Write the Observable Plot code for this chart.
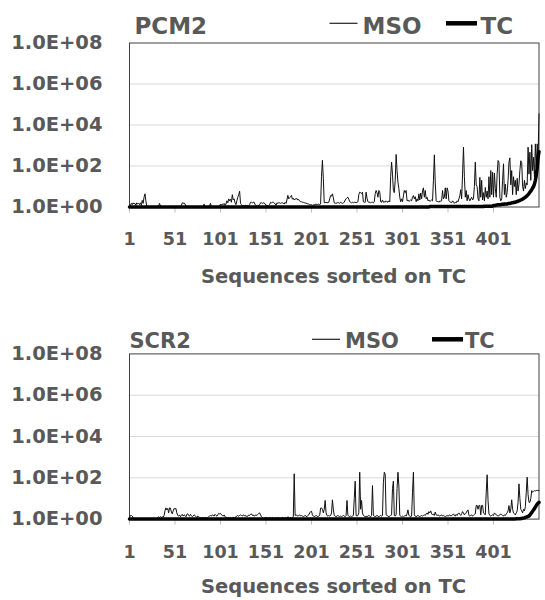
<!DOCTYPE html>
<html>
<head>
<meta charset="utf-8">
<script src="https://cdn.jsdelivr.net/npm/d3@7"></script>
<script src="https://cdn.jsdelivr.net/npm/@observablehq/plot@0.6"></script>
<style>
  html, body { margin: 0; padding: 0; background: #fff; }
  #wrap { position: relative; width: 545px; height: 600px; overflow: hidden; }
  #wrap > div { position: absolute; left: 0; }
</style>
</head>
<body>
<div id="wrap"><div id="p1" style="top:0"></div><div id="p2" style="top:300px"></div></div>
<script>
// ---- Data ----
const panelTitles = ["PCM2", "SCR2"];
const seriesNames = ["MSO", "TC"];
const xTitle = "Sequences sorted on TC";
const xTicks = [1, 51, 101, 151, 201, 251, 301, 351, 401];
const yTicks = [1, 1e2, 1e4, 1e6, 1e8];

const msoPCM2 = [
1,1.2,1.5,1.3,1.6,1.4,1.5,1.2,1.6,1.4,
1.5,1.3,1.6,1.2,2.1,1.5,3,4.4,2,1.1,
1,1,1,1,1,1,1,1,1,1,
1,1,1.1,1.5,1.1,1,1,1,1,1,
1,1,1,1,1,1,1,1,1,1,
1,1,1,1,1,1,1,1.2,1.6,1.5,
1.6,1.4,1.1,1,1,1,1,1,1,1,
1,1,1,1,1,1,1,1,1,1,
1,1,1.4,1,1,1,1,1,1.2,1.5,
1,1,1,1,1,1,1,1,1,1.1,
1.4,1.2,1.4,1.3,1.5,1.2,1.4,2,1.6,2.5,
2,2.4,1.7,4,2.2,2.5,1.6,1.3,2,3,
4,5.9,1.5,1.3,1.2,1.2,1.1,1.2,1.2,1.1,
1.2,1.1,1.3,1.7,1.7,1.6,1.7,1.7,1.3,1.2,
1.1,1.2,1.2,1.3,1.6,1.6,1.5,1.6,1.6,1.4,
1.2,1.2,1.1,1.2,1.3,1.7,1.6,1.7,1.7,1.6,
1.4,1.2,1.6,1.5,1.6,1.6,1.5,1.6,1.6,1.5,
1.4,1.7,1.5,2.2,3.7,2.5,2.8,3.2,3.7,2.4,
2.7,2.2,2.5,2.4,2.6,2.2,2.3,2,1.8,1.8,
1.7,1.7,1.6,1.6,1.5,1.5,1.4,1.4,1.3,1.3,
1.3,1.2,1.3,1.2,1.4,1.3,1.4,1.3,1.4,1.3,
1.4,30,190,25,1.6,1.7,1.6,1.7,1.6,1.7,
2.5,3.6,3.4,4.4,2.8,1.6,1.5,1.6,1.5,1.7,
1.6,1.5,1.7,1.6,1.5,1.6,1.7,2.2,2.5,2.8,
3,2.4,1.8,1.7,1.6,1.7,1.6,1.7,1.7,1.6,
1.7,1.8,4,5.3,5,4.5,5.3,1.8,1.7,1.7,
5.3,2.7,1.8,1.7,1.7,1.6,1.7,1.7,1.6,1.8,
4.5,6.4,5,3,6.4,5.5,1.8,1.7,2.2,1.7,
1.8,1.7,2,1.8,1.7,2,1.8,30,155,40,
6.4,5,20,364,60,16,8,3,1.8,2.5,
1.8,3.5,6.4,5,6.4,2,2.2,1.9,2,2.2,
2,3,3.6,2.5,3.2,1.8,2.5,2,4.4,2.2,
4.8,2.5,6,8.6,3,6.4,2.5,3,2,2.2,
1.9,2,2.2,2,20,350,15,2,1.8,1.9,
1.7,2,1.9,2,6.4,2.5,3,8.6,2.5,8.6,
6,2,1.8,1.7,1.6,2,1.8,1.5,1.7,1.6,
2,1.8,2.5,3.6,7,2.5,40,830,30,3,
6.4,2,4,2.5,2,2.5,3,2.2,2.5,10,
154,12,10,2.5,2,28,3,20,2.2,5,
2,9,3,6,2.5,30,3,60,4,50,
3,45,8,3,40,186,154,3,2,2.5,
20,128,4,13,3,5,20,154,250,12,
60,4,30,10,20,4,25,6,13,60,
180,150,10,6,20,8,15,12,830,40,
470,20,1100,60,270,30,1200,80,1200,300,
35000];

const tcPCM2 = [
1,1,1,1,1,1,1,1,1,1, 1,1,1,1,1,1,1,1,1,1, 1,1,1,1,1,1,1,1,1,1,
1,1,1,1,1,1,1,1,1,1, 1,1,1,1,1,1,1,1,1,1, 1,1,1,1,1,1,1,1,1,1,
1,1,1,1,1,1,1,1,1,1, 1,1,1,1,1,1,1,1,1,1, 1,1,1,1,1,1,1,1,1,1,
1,1,1,1,1,1,1,1,1,1, 1,1,1,1,1,1,1,1,1,1, 1,1,1,1,1,1,1,1,1,1,
1,1,1,1,1,1,1,1,1,1, 1,1,1,1,1,1,1,1,1,1, 1,1,1,1,1,1,1,1,1,1,
1,1,1,1,1,1,1,1,1,1, 1,1,1,1,1,1,1,1,1,1, 1,1,1,1,1,1,1,1,1,1,
1,1,1,1,1,1,1,1,1,1, 1,1,1,1,1,1,1,1,1,1, 1,1,1,1,1,1,1,1,1,1,
1,1,1,1,1,1,1,1,1,1, 1,1,1,1,1,1,1,1,1,1, 1,1,1,1,1,1,1,1,1,1,
1,1,1,1,1,1,1,1,1,1, 1,1,1,1,1,1,1,1,1,1, 1,1,1,1,1,1,1,1,1,1,
1,1,1,1,1,1,1,1,1,1, 1,1,1,1,1,1,1,1,1,1, 1,1,1,1,1,1,1,1,1,1,
1,1,1,1,1,1,1,1,1,1, 1,1,1,1,1,1,1,1,1,1, 1,1,1,1,1,1,1,1,1,1,
1.05,1.05,1.05,1.05,1.05,1.05,1.05,1.05,1.05,1.05,
1.05,1.05,1.05,1.05,1.05,1.05,1.05,1.05,1.05,1.05,
1.05,1.05,1.05,1.05,1.05,1.05,1.05,1.05,1.05,1.05,
1.05,1.05,1.05,1.05,1.05,1.05,1.05,1.05,1.05,1.05,
1.05,1.05,1.05,1.05,1.05,1.05,1.05,1.05,1.05,1.05,
1.05,1.05,1.05,1.05,1.05,1.05,1.05,1.05,1.05,1.05,
1.1,1.1,1.1,1.1,1.1,1.1,1.1,1.1,1.1,1.1,
1.2,1.2,1.2,1.25,1.25,1.3,1.3,1.3,1.3,1.35,
1.35,1.35,1.4,1.4,1.4,1.4,1.45,1.5,1.5,1.55,
1.6,1.6,1.65,1.7,1.7,1.8,1.85,1.9,2,2.1,
2.2,2.3,2.4,2.6,2.8,3,3.3,3.6,4,4.5,
5.3,6,7,8.5,10,13,20,35,80,270,
500];

const msoSCR2 = [
1.2,1.5,1.5,1.4,1.2,1,1,1,1,1,
1,1,1,1,1,1,1,1,1,1,
1,1,1,1,1,1,1,1,1,1,
1.1,1.2,1.3,1.2,1.3,1.2,1.3,1.2,1.5,2.5,
3.5,2.8,3.3,2,3.5,3.4,2.2,1.8,2.5,3.3,
3,3.3,2,1.5,1.4,1.6,1.3,1.5,1.7,1.4,
1.6,1.5,1.3,1.7,1.8,1.5,1.4,1.7,1.5,1.3,
1.4,1.6,1.5,1.3,1.2,1.4,1.3,1.2,1.2,1.1,
1.2,1.1,1.2,1.1,1.2,1.1,1.2,1.3,1.4,1.5,
1.4,1.6,1.5,1.4,1.7,1.5,1.4,1.6,1.9,1.8,
1.9,1.6,1.5,1.4,1.6,1.3,1.2,1.2,1.1,1.2,
1.1,1.2,1.1,1.2,1.2,1.1,1.2,1.3,1.4,1.5,
1.4,1.5,1.6,1.5,1.4,1.6,1.5,1.4,1.5,1.3,
1.4,1.6,1.5,1.7,1.8,1.5,1.6,1.4,1.5,1.6,
1.5,1.7,1.9,2,1.6,1.3,1.2,1.1,1.1,1.2,
1.1,1.2,1.1,1.1,1.2,1.1,1.1,1.2,1.1,1.1,
1.1,1.2,1.1,1.1,1.2,1.1,1.1,1.1,1.2,1.1,
1.1,1.2,1.1,1.1,1.3,1.2,1.1,1.2,1.1,1.2,
1.3,156,1.5,1.6,1.5,1.4,1.5,1.6,1.4,1.5,
1.4,1.3,1.4,1.5,1.4,1.3,1.5,1.6,2,2.3,
2.4,1.6,1.4,1.3,1.4,1.5,1.4,1.3,1.4,1.5,
3.4,3.5,3,2,3,8,2,1.5,1.4,1.5,
1.4,1.5,2,8.6,3,1.5,1.4,1.3,1.4,1.5,
1.4,1.3,1.4,1.3,1.4,1.5,1.4,1.3,1.5,8,
1.5,1.4,1.3,1.4,1.3,1.4,1.5,10,69,1.5,
1.4,1.5,2,186,3,8,2,1.5,1.4,1.3,
1.4,1.3,1.4,1.5,1.4,1.3,1.5,42,1.5,1.4,
1.3,1.4,1.5,1.4,1.3,1.4,1.5,1.4,1.5,60,
186,150,1.6,1.5,1.4,1.3,1.4,1.5,1.6,30,
69,1.5,1.4,1.6,30,186,40,1.5,1.4,1.3,
1.4,1.3,1.4,1.5,1.4,1.8,2.8,1.5,1.4,1.3,
1.4,20,186,1.6,1.4,1.3,1.4,1.5,1.4,1.3,
1.4,1.5,1.4,1.5,1.6,1.5,1.8,2,1.7,2.3,
2,2.5,1.8,1.6,1.8,1.5,2.2,1.6,1.5,1.6,
1.5,1.4,1.5,1.6,1.4,1.5,1.4,1.3,1.4,1.5,
1.4,1.5,1.6,1.4,1.5,1.6,1.8,1.5,1.4,1.7,
1.5,1.8,2,1.7,1.5,1.8,2.3,2,1.6,1.8,
2,2.5,2.8,1.5,1.4,1.5,1.6,1.4,1.5,1.7,
1.8,4.6,4.6,3,4.6,4.6,1.6,4.6,4.6,2,
1.8,1.6,20,140,8,1.8,1.5,1.4,1.5,1.6,
1.5,2,1.8,1.6,1.5,1.4,1.5,1.6,1.8,1.6,
1.5,1.4,1.6,1.5,1.8,2,2.5,4.5,2,3,
8.6,3,2,1.8,1.6,2,2.5,6.5,51,10,
3,2.5,2,3,2.5,4,20,107,15,6.5,
6.5,10,24,20,22,24,23,24,25,24,
24];

const tcSCR2 = [
1,1,1,1,1,1,1,1,1,1, 1,1,1,1,1,1,1,1,1,1, 1,1,1,1,1,1,1,1,1,1,
1,1,1,1,1,1,1,1,1,1, 1,1,1,1,1,1,1,1,1,1, 1,1,1,1,1,1,1,1,1,1,
1,1,1,1,1,1,1,1,1,1, 1,1,1,1,1,1,1,1,1,1, 1,1,1,1,1,1,1,1,1,1,
1,1,1,1,1,1,1,1,1,1, 1,1,1,1,1,1,1,1,1,1, 1,1,1,1,1,1,1,1,1,1,
1,1,1,1,1,1,1,1,1,1, 1,1,1,1,1,1,1,1,1,1, 1,1,1,1,1,1,1,1,1,1,
1,1,1,1,1,1,1,1,1,1, 1,1,1,1,1,1,1,1,1,1, 1,1,1,1,1,1,1,1,1,1,
1,1,1,1,1,1,1,1,1,1, 1,1,1,1,1,1,1,1,1,1, 1,1,1,1,1,1,1,1,1,1,
1,1,1,1,1,1,1,1,1,1, 1,1,1,1,1,1,1,1,1,1, 1,1,1,1,1,1,1,1,1,1,
1,1,1,1,1,1,1,1,1,1, 1,1,1,1,1,1,1,1,1,1, 1,1,1,1,1,1,1,1,1,1,
1,1,1,1,1,1,1,1,1,1, 1,1,1,1,1,1,1,1,1,1, 1,1,1,1,1,1,1,1,1,1,
1,1,1,1,1,1,1,1,1,1, 1,1,1,1,1,1,1,1,1,1, 1,1,1,1,1,1,1,1,1,1,
1,1,1,1,1,1,1,1,1,1, 1,1,1,1,1,1,1,1,1,1, 1,1,1,1,1,1,1,1,1,1,
1,1,1,1,1,1,1,1,1,1, 1,1,1,1,1,1,1,1,1,1, 1,1,1,1,1,1,1,1,1,1,
1,1,1,1,1,1,1,1,1,1, 1,1,1,1,1,1,1,1,1,1, 1,1,1,1,1,1,1,1,1,1,
1,1,1,1,1.02,1.03,1.04,1.05,1.05,1.05,
1.07,1.08,1.1,1.12,1.15,1.2,1.25,1.3,1.35,1.4,
1.6,1.8,2.1,2.4,2.8,3.2,3.8,4.5,5.3,6,
6.5];

// ---- Drawing ----
const FONT = "DejaVu Sans";
const GREY = "#595959";
const fmtE = d => "1.0E+" + String(Math.round(Math.log10(d))).padStart(2, "0");

function panel(mso, tc, opts) {
  const n = Math.min(mso.length, tc.length);
  const rows = d3.range(n).map(i => ({seq: i + 1, mso: mso[i], tc: tc[i]}));
  const svg = Plot.plot({
    width: 545, height: 300,
    marginLeft: 129, marginRight: 6.5,
    marginTop: opts.marginTop, marginBottom: opts.marginBottom,
    style: {fontFamily: FONT, color: GREY, background: "white", overflow: "visible"},
    x: {domain: [1, 451], label: null},
    y: {type: "log", domain: [1, 1e8], label: null},
    marks: [
      Plot.gridY(yTicks.slice(1, 4), {stroke: "#d9d9d9", strokeOpacity: 1, strokeWidth: 1}),
      Plot.frame({stroke: "#404040", strokeWidth: 1}),
      Plot.axisY(yTicks, {tickSize: 0, tickPadding: 27, tickFormat: fmtE, fontSize: 19.5, fontWeight: "bold", fill: GREY, label: null}),
      Plot.axisX(xTicks, {tickSize: 6, tickPadding: 20, stroke: "#bfbfbf", fill: GREY, fontSize: 17.5, fontWeight: "bold", label: null}),
      Plot.lineY(rows, {x: "seq", y: "mso", stroke: "#111", strokeWidth: 1}),
      Plot.lineY(rows, {x: "seq", y: "tc", stroke: "#000", strokeWidth: 3.5})
    ]
  });
  const s = d3.select(svg);
  const addText = (txt, x, y, size, anchor = "start") =>
    s.append("text").attr("x", x).attr("y", y).attr("fill", GREY)
      .attr("font-family", FONT).attr("font-weight", "bold")
      .attr("font-size", size).attr("text-anchor", anchor).text(txt);
  const L = opts.legend;
  addText(opts.title, L.titleX, L.base, L.size);
  s.append("line").attr("x1", L.m1).attr("x2", L.m2).attr("y1", L.ly).attr("y2", L.ly)
    .attr("stroke", "#222").attr("stroke-width", 1.2);
  addText(seriesNames[0], L.mt, L.base, L.size);
  s.append("line").attr("x1", L.t1).attr("x2", L.t2).attr("y1", L.ly).attr("y2", L.ly)
    .attr("stroke", "#000").attr("stroke-width", 4.5);
  addText(seriesNames[1], L.tt, L.base, L.size);
  addText(xTitle, 333.5, opts.xTitleY, 19.5, "middle");
  return svg;
}

document.getElementById("p1").appendChild(panel(msoPCM2, tcPCM2, {
  title: panelTitles[0], marginTop: 42.5, marginBottom: 93.5, xTitleY: 282.5,
  legend: {titleX: 134.5, base: 34, size: 23, ly: 23.3, m1: 329.5, m2: 357.5, mt: 362.5, t1: 446, t2: 477, tt: 480.5}
}));
document.getElementById("p2").appendChild(panel(msoSCR2, tcSCR2, {
  title: panelTitles[1], marginTop: 53.4, marginBottom: 81.4, xTitleY: 293,
  legend: {titleX: 129.5, base: 47.7, size: 21, ly: 39.3, m1: 312, m2: 340, mt: 345, t1: 432, t2: 463, tt: 465}
}));
</script>
</body>
</html>
